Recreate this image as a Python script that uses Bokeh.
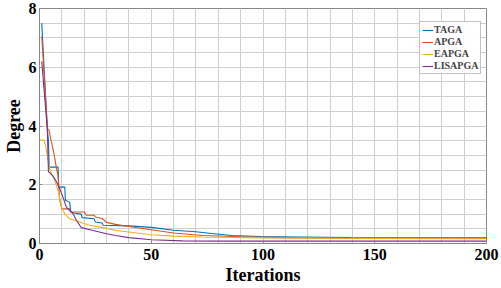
from bokeh.plotting import figure
from bokeh.models import FixedTicker, Legend, LegendItem, Range1d
from bokeh.embed import file_html
from bokeh.resources import INLINE

series_names = ["TAGA", "APGA", "EAPGA", "LISAPGA"]
series_colors = ["#0072BD", "#D95319", "#EDB120", "#7E2F8E"]

taga_x = [1, 3.5, 4.0, 4.3, 8.3, 8.6, 11.3, 11.6, 13.5, 14, 16, 18.7, 19, 24.5, 25, 28, 28.5, 40, 50, 60, 70, 77, 86, 99, 117, 139, 200]
taga_y = [7.5, 3.9, 3.5, 2.6, 2.6, 1.92, 1.92, 1.47, 1.4, 1.07, 1.03, 1.0, 0.88, 0.84, 0.73, 0.7, 0.62, 0.6, 0.55, 0.45, 0.4, 0.34, 0.27, 0.24, 0.22, 0.2, 0.19]

apga_x = [1, 3.6, 4.3, 4.9, 5.8, 6.5, 7.6, 8.3, 9, 10, 13.4, 14.3, 20, 21, 24.5, 25, 28, 30, 34, 40, 50, 60, 73, 90, 110, 140, 200]
apga_y = [7.05, 3.9, 3.85, 3.6, 3.3, 3.05, 2.56, 2.3, 1.5, 1.18, 1.18, 1.07, 1.07, 0.96, 0.96, 0.9, 0.85, 0.72, 0.65, 0.58, 0.47, 0.36, 0.27, 0.23, 0.2, 0.18, 0.17]

eapga_x = [0, 2, 2.8, 4.6, 6.8, 8.3, 9.8, 11.3, 13.5, 18, 22.4, 28.4, 34.3, 40, 50, 60, 73, 100, 150, 200]
eapga_y = [3.52, 3.52, 3.3, 2.5, 2.15, 1.8, 1.24, 1.01, 0.84, 0.73, 0.62, 0.54, 0.44, 0.39, 0.3, 0.25, 0.22, 0.19, 0.17, 0.16]

lisapga_x = [1, 3.5, 4, 6, 7.6, 9, 10.5, 12, 15, 16.5, 18.7, 24, 30, 34, 40, 50, 64, 80, 200]
lisapga_y = [6.2, 3.9, 2.45, 2.3, 2.1, 1.87, 1.58, 1.24, 1.01, 0.79, 0.54, 0.44, 0.33, 0.27, 0.2, 0.13, 0.09, 0.08, 0.08]

x_ticks = [0, 50, 100, 150, 200]
y_ticks = [0, 2, 4, 6, 8]
x_grid = list(range(0, 201, 10))
y_grid = [i * 0.5 for i in range(0, 17)]

FONT = "Liberation Serif"

p = figure(width=501, height=288, output_backend="svg", toolbar_location=None,
           x_range=Range1d(0, 200), y_range=Range1d(0, 8),
           min_border_left=37, min_border_right=15, min_border_top=8, min_border_bottom=45)
p.background_fill_color = "white"
p.border_fill_color = "white"
p.outline_line_color = "#888888"
p.outline_line_width = 1

p.xaxis.ticker = FixedTicker(ticks=x_ticks)
p.yaxis.ticker = FixedTicker(ticks=y_ticks)
p.xgrid.ticker = FixedTicker(ticks=x_grid)
p.ygrid.ticker = FixedTicker(ticks=y_grid)
for g in (p.xgrid, p.ygrid):
    g.grid_line_color = "#cfcfcf"
    g.grid_line_alpha = 1.0
    g.grid_line_width = 1

for ax in (p.xaxis, p.yaxis):
    ax.axis_line_color = "#888888"
    ax.major_tick_line_color = "#888888"
    ax.major_tick_in = 3
    ax.major_tick_out = 0
    ax.minor_tick_line_color = None
    ax.major_label_text_font = FONT
    ax.major_label_text_font_style = "bold"
    ax.major_label_text_font_size = "16px"
    ax.major_label_text_color = "black"
    ax.axis_label_text_font = FONT
    ax.axis_label_text_font_style = "bold"
    ax.axis_label_text_font_size = "18px"
    ax.axis_label_text_color = "black"

p.xaxis.axis_label = "Iterations"
p.yaxis.axis_label = "Degree"
p.xaxis.major_label_standoff = 5
p.xaxis.axis_label_standoff = 2
p.yaxis.major_label_standoff = 3
p.yaxis.axis_label_standoff = 2

xs = [taga_x, apga_x, eapga_x, lisapga_x]
ys = [taga_y, apga_y, eapga_y, lisapga_y]
items = []
for name, col, x, y in zip(series_names, series_colors, xs, ys):
    r = p.line(x, y, line_color=col, line_width=1.1)
    items.append(LegendItem(label=name, renderers=[r]))

legend = Legend(items=items, location=(380, 169))
legend.label_text_font = FONT
legend.label_text_font_style = "bold"
legend.label_text_font_size = "10px"
legend.label_height = 10
legend.label_standoff = 1
legend.glyph_width = 11
legend.glyph_height = 10
legend.spacing = 1
legend.padding = 2
legend.margin = 0
legend.border_line_color = "#888888"
legend.background_fill_color = "white"
p.add_layout(legend, "center")

open("out.html", "w").write(file_html(p, INLINE))
